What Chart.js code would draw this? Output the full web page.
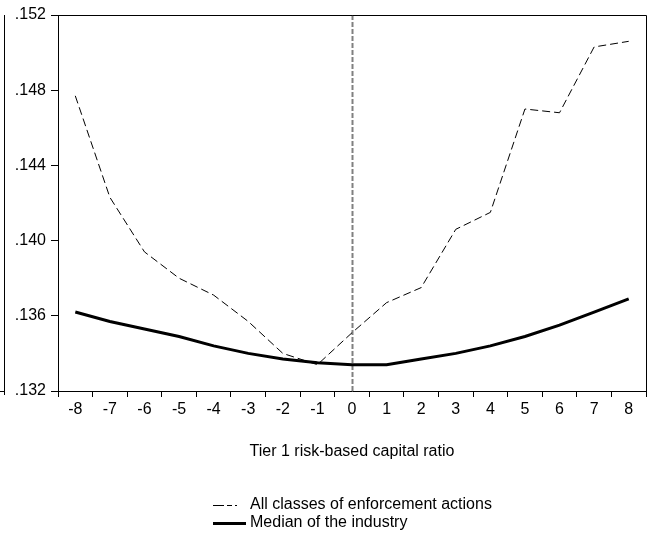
<!DOCTYPE html>
<html>
<head>
<meta charset="utf-8">
<script src="https://cdn.jsdelivr.net/npm/chart.js@4/dist/chart.umd.min.js"></script>
<style>
    html, body { margin: 0; padding: 0; background: #fff; }
    #wrap { width: 648px; height: 540px; position: relative; }
</style>
</head>
<body>
<div id="wrap"><canvas id="chart"></canvas></div>
<script>
// Data
const categories = ['-8', '-7', '-6', '-5', '-4', '-3', '-2', '-1', '0', '1', '2', '3', '4', '5', '6', '7', '8'];
const allEnforcement = [0.1477, 0.1423, 0.1394, 0.1380, 0.1371, 0.1357, 0.1340, 0.1334, 0.1351, 0.1367, 0.1375, 0.1406, 0.1415, 0.1470, 0.1468, 0.1503, 0.1506];
const industryMedian = [0.1362, 0.1357, 0.1353, 0.1349, 0.1344, 0.1340, 0.1337, 0.1335, 0.1334, 0.1334, 0.1337, 0.1340, 0.1344, 0.1349, 0.1355, 0.1362, 0.1369];
const yTicks = [0.132, 0.136, 0.140, 0.144, 0.148, 0.152];
const markerCategory = '0';
const xTitle = 'Tier 1 risk-based capital ratio';
const seriesNames = ['All classes of enforcement actions', 'Median of the industry'];

const FONT = "'Liberation Sans', Arial, sans-serif";

// Extra drawing: plot frame, event line at 0, axis title, legend
const decorPlugin = {
    id: 'decor',
    beforeDatasetsDraw(chart) {
        const { ctx, chartArea: a, scales } = chart;
        const x0 = Math.round(scales.x.getPixelForValue(categories.indexOf(markerCategory))) + 0.5;
        ctx.save();
        ctx.strokeStyle = '#808080';
        ctx.lineWidth = 2;
        ctx.setLineDash([5, 2]);
        ctx.beginPath();
        ctx.moveTo(x0, a.top);
        ctx.lineTo(x0, a.bottom);
        ctx.stroke();
        ctx.restore();
    },
    afterDraw(chart) {
        const { ctx, chartArea: a } = chart;
        ctx.save();

        // frame (top and right sides)
        ctx.strokeStyle = '#000';
        ctx.lineWidth = 1;
        ctx.beginPath();
        ctx.moveTo(a.left, a.top + 0.5);
        ctx.lineTo(a.right + 0.5, a.top + 0.5);
        ctx.lineTo(a.right + 0.5, a.bottom + 6);
        ctx.stroke();

        // stray left rule from the source picture
        ctx.beginPath();
        ctx.moveTo(4.5, a.top);
        ctx.lineTo(4.5, a.bottom + 4);
        ctx.moveTo(0, a.bottom + 0.5);
        ctx.lineTo(4, a.bottom + 0.5);
        ctx.stroke();

        // axis title
        const cx = (a.left + a.right) / 2;
        ctx.fillStyle = '#000';
        ctx.font = `16px ${FONT}`;
        ctx.textAlign = 'center';
        ctx.textBaseline = 'middle';
        ctx.fillText(xTitle, cx, 452);

        // legend, stacked and left aligned, block centred under the plot
        ctx.textAlign = 'left';
        const sampleLen = 33;
        const widest = Math.max(...chart.data.datasets.map(d => ctx.measureText(d.label).width));
        const left = Math.round(cx - (sampleLen + 4 + widest) / 2);
        const rows = [505, 523];
        chart.data.datasets.forEach((d, i) => {
            const y = rows[i];
            ctx.strokeStyle = d.borderColor;
            ctx.lineWidth = d.borderWidth;
            ctx.setLineDash(d.borderDash && d.borderDash.length ? [11, 3, 5, 3, 2, 9] : []);
            ctx.beginPath();
            ctx.moveTo(left, y + 0.5);
            ctx.lineTo(left + sampleLen, y + 0.5);
            ctx.stroke();
            ctx.setLineDash([]);
            ctx.fillText(d.label, left + sampleLen + 4, y);
        });

        ctx.restore();
    }
};

const chart = new Chart(document.getElementById('chart'), {
    type: 'line',
    data: {
        labels: categories,
        datasets: [
            {
                label: seriesNames[0],
                data: allEnforcement,
                borderColor: '#000',
                borderWidth: 1,
                borderDash: [8, 4],
                pointRadius: 0,
                tension: 0,
                fill: false
            },
            {
                label: seriesNames[1],
                data: industryMedian,
                borderColor: '#000',
                borderWidth: 3,
                borderDash: [],
                pointRadius: 0,
                tension: 0,
                fill: false
            }
        ]
    },
    options: {
        responsive: true,
        maintainAspectRatio: false,
        animation: false,
        layout: { padding: { top: 15, right: 2, left: 0, bottom: 0 } },
        plugins: {
            legend: { display: false },
            tooltip: { enabled: false }
        },
        scales: {
            x: {
                type: 'category',
                offset: true,
                afterFit: s => { s.height = 149; },
                grid: {
                    offset: true,
                    drawOnChartArea: false,
                    drawTicks: true,
                    tickLength: 6,
                    color: '#000'
                },
                border: { color: '#000', width: 1 },
                ticks: {
                    color: '#000',
                    padding: 3,
                    maxRotation: 0,
                    autoSkip: false,
                    font: { family: FONT, size: 16 }
                }
            },
            y: {
                min: 0.132,
                max: 0.152,
                afterFit: s => { s.width = 58; },
                afterBuildTicks: s => { s.ticks = yTicks.map(v => ({ value: v })); },
                grid: {
                    drawOnChartArea: false,
                    drawTicks: true,
                    tickLength: 7,
                    color: '#000'
                },
                border: { color: '#000', width: 1 },
                ticks: {
                    color: '#000',
                    padding: 5,
                    font: { family: FONT, size: 16 },
                    callback: v => v.toFixed(3).replace(/^0/, '')
                }
            }
        }
    },
    plugins: [decorPlugin]
});
</script>
</body>
</html>
